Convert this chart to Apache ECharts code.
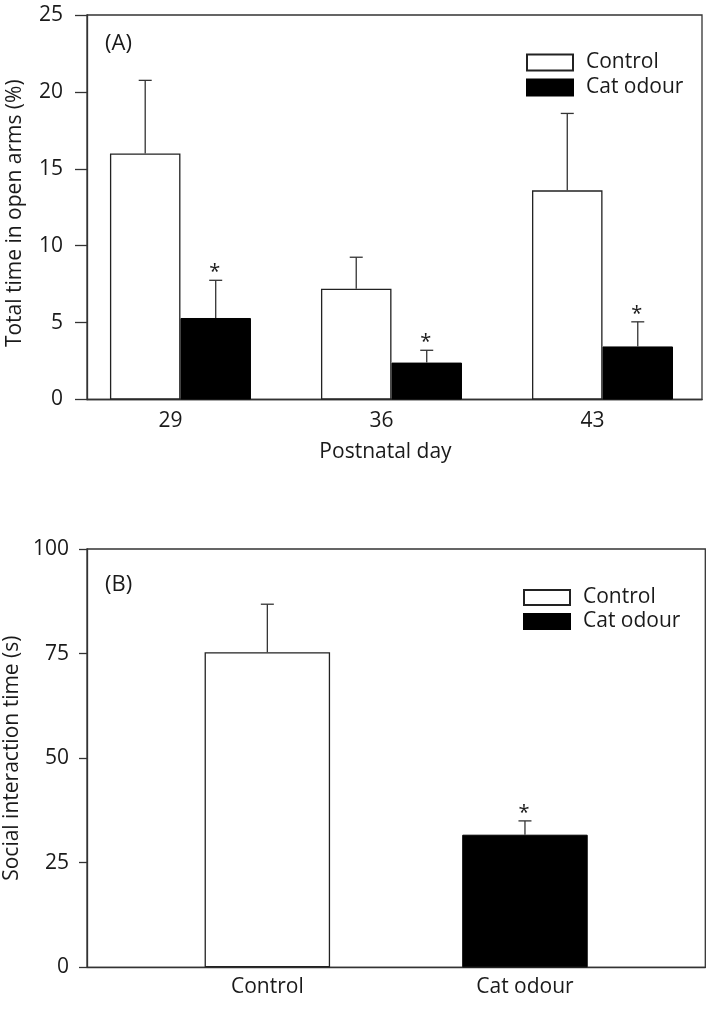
<!DOCTYPE html>
<html>
<head>
<meta charset="utf-8">
<script src="https://cdn.jsdelivr.net/npm/echarts@6/dist/echarts.min.js"></script>
<style>
  html, body { margin: 0; padding: 0; background: #fff; }
  #chart { width: 709px; height: 1035px; }
</style>
</head>
<body>
<div id="chart"></div>
<script>
// ---------- Data ----------
const daysA = [29, 36, 43];
const controlA = [16.0, 7.2, 13.6];
const controlErrA = [4.75, 2.05, 5.0];
const catA = [5.3, 2.4, 3.45];
const catErrA = [2.45, 0.8, 1.6];
const catSigA = ['*', '*', '*'];
const yTicksA = [0, 5, 10, 15, 20, 25];

const groupsB = ['Control', 'Cat odour'];
const controlB = [75.3];
const controlErrB = [11.5];
const catB = [31.7];
const catErrB = [3.3];
const catSigB = ['*'];
const yTicksB = [0, 25, 50, 75, 100];

// ---------- Style ----------
const FONT = '"Open Sans", "DejaVu Sans", sans-serif';
const TXT = '#1a1a1a';
const LINE = '#333';
const BAR_W_A = 70.5;
const BAR_W_B = 125.5;

function errRender(shift, capHalf, sig) {
  return function (params, api) {
    const x = api.value(0), v = api.value(1), up = api.value(2);
    const p0 = api.coord([x, v]);
    const p1 = api.coord([x, up]);
    const cx = p0[0] + shift;
    const st = { stroke: LINE, lineWidth: 1.3 };
    const children = [
      { type: 'line', shape: { x1: cx, y1: p0[1], x2: cx, y2: p1[1] }, style: st },
      { type: 'line', shape: { x1: cx - capHalf, y1: p1[1], x2: cx + capHalf, y2: p1[1] }, style: st }
    ];
    const s = sig && sig[params.dataIndex];
    if (s) {
      children.push({
        type: 'text',
        style: { text: s, x: cx - 1, y: p1[1] - 8, align: 'center', verticalAlign: 'middle',
                 font: '20px ' + FONT, fill: TXT }
      });
    }
    return { type: 'group', children: children };
  };
}

const yAxisCommon = {
  type: 'value',
  splitLine: { show: false },
  axisLine: { show: true, lineStyle: { color: LINE, width: 1.3 } },
  axisTick: { show: true, inside: false, lineStyle: { color: LINE, width: 1.3 } },
  nameLocation: 'middle',
  nameRotate: 90,
  axisLabel: { fontFamily: FONT, fontSize: 21, color: TXT }
};

const legendCommon = {
  orient: 'vertical',
  icon: 'rect',
  padding: 0,
  itemWidth: 46,
  itemHeight: 16,
  itemGap: 4,
  selectedMode: false,
  textStyle: { fontFamily: FONT, fontSize: 21, color: TXT, lineHeight: 20, padding: [0, 0, 0, 8] }
};

const ctrlStyle = { color: '#fff', borderColor: '#222', borderWidth: 1.3 };
const catStyle = { color: '#000', borderColor: '#000', borderWidth: 1 };

const option = {
  backgroundColor: '#fff',
  animation: false,
  textStyle: { fontFamily: FONT },
  grid: [
    { left: 87, top: 15, width: 615, height: 384.5, show: true, borderColor: LINE, borderWidth: 1.3, backgroundColor: 'transparent', outerBoundsMode: 'none' },
    { left: 87, top: 549, width: 618.3, height: 418.3, show: true, borderColor: LINE, borderWidth: 1.3, backgroundColor: 'transparent', outerBoundsMode: 'none' }
  ],
  xAxis: [
    {
      gridIndex: 0, type: 'value', min: 25.9, max: 46.3,
      splitLine: { show: false },
      axisLine: { show: true, lineStyle: { color: LINE, width: 1.3 } },
      axisTick: { show: false },
      axisLabel: { customValues: daysA, fontFamily: FONT, fontSize: 21, color: TXT, margin: 11, padding: [0, 20, 0, 0] },
      name: 'Postnatal day', nameLocation: 'middle', nameGap: 42,
      nameTextStyle: { fontFamily: FONT, fontSize: 21, color: TXT, padding: [0, 18, 0, 0] }
    },
    {
      gridIndex: 1, type: 'value', min: 0.3, max: 2.7,
      splitLine: { show: false },
      axisLine: { show: true, lineStyle: { color: LINE, width: 1.3 } },
      axisTick: { show: false },
      axisLabel: { customValues: [1, 2], fontFamily: FONT, fontSize: 21, color: TXT, margin: 9,
                   formatter: function (v) { return groupsB[Math.round(v) - 1]; } }
    }
  ],
  yAxis: [
    Object.assign({}, yAxisCommon, {
      gridIndex: 0, min: 0, max: 25, interval: 5,
      axisTick: Object.assign({}, yAxisCommon.axisTick, { length: 12 }),
      axisLabel: Object.assign({}, yAxisCommon.axisLabel, { margin: 24 }),
      name: 'Total time in open arms (%)', nameGap: 61,
      nameTextStyle: { fontFamily: FONT, fontSize: 21, color: TXT, padding: [0, 12, 0, 0] }
    }),
    Object.assign({}, yAxisCommon, {
      gridIndex: 1, min: 0, max: 100, interval: 25,
      axisTick: Object.assign({}, yAxisCommon.axisTick, { length: 8 }),
      axisLabel: Object.assign({}, yAxisCommon.axisLabel, { margin: 18 }),
      name: 'Social interaction time (s)', nameGap: 61,
      nameTextStyle: { fontFamily: FONT, fontSize: 21, color: TXT }
    })
  ],
  legend: [
    Object.assign({}, legendCommon, { left: 526, top: 52, data: ['Control', 'Cat odour'] }),
    Object.assign({}, legendCommon, { left: 523, top: 587, itemHeight: 15, itemGap: 3, data: ['Control', 'Cat odour'] })
  ],
  graphic: [
    { type: 'text', left: 105, top: 33, style: { text: '(A)', font: '22px ' + FONT, fill: TXT } },
    { type: 'text', left: 105, top: 574, style: { text: '(B)', font: '22px ' + FONT, fill: TXT } }
  ],
  series: [
    {
      name: 'Control', type: 'bar', xAxisIndex: 0, yAxisIndex: 0,
      barWidth: BAR_W_A, barGap: '0%',
      itemStyle: ctrlStyle,
      data: daysA.map(function (d, i) { return [d, controlA[i]]; })
    },
    {
      name: 'Cat odour', type: 'bar', xAxisIndex: 0, yAxisIndex: 0,
      barWidth: BAR_W_A, barGap: '0%',
      itemStyle: catStyle,
      data: daysA.map(function (d, i) { return [d, catA[i]]; })
    },
    {
      name: 'errCtrlA', type: 'custom', xAxisIndex: 0, yAxisIndex: 0, z: 5,
      renderItem: errRender(-BAR_W_A / 2, 6.5, null),
      encode: { x: 0, y: 1 },
      data: daysA.map(function (d, i) { return [d, controlA[i], controlA[i] + controlErrA[i]]; })
    },
    {
      name: 'errCatA', type: 'custom', xAxisIndex: 0, yAxisIndex: 0, z: 5,
      renderItem: errRender(BAR_W_A / 2, 6.5, catSigA),
      encode: { x: 0, y: 1 },
      data: daysA.map(function (d, i) { return [d, catA[i], catA[i] + catErrA[i]]; })
    },
    {
      name: 'Control', type: 'bar', xAxisIndex: 1, yAxisIndex: 1,
      barWidth: BAR_W_B, barGap: '-100%',
      itemStyle: ctrlStyle,
      data: controlB.map(function (v, i) { return [1 + i, v]; })
    },
    {
      name: 'Cat odour', type: 'bar', xAxisIndex: 1, yAxisIndex: 1,
      barWidth: BAR_W_B, barGap: '-100%',
      itemStyle: catStyle,
      data: catB.map(function (v, i) { return [2 + i, v]; })
    },
    {
      name: 'errCtrlB', type: 'custom', xAxisIndex: 1, yAxisIndex: 1, z: 5,
      renderItem: errRender(0, 6.5, null),
      encode: { x: 0, y: 1 },
      data: controlB.map(function (v, i) { return [1 + i, v, v + controlErrB[i]]; })
    },
    {
      name: 'errCatB', type: 'custom', xAxisIndex: 1, yAxisIndex: 1, z: 5,
      renderItem: errRender(0, 6.5, catSigB),
      encode: { x: 0, y: 1 },
      data: catB.map(function (v, i) { return [2 + i, v, v + catErrB[i]]; })
    }
  ]
};

const chart = echarts.init(document.getElementById('chart'), null, { renderer: 'canvas' });
chart.setOption(option);
</script>
</body>
</html>
